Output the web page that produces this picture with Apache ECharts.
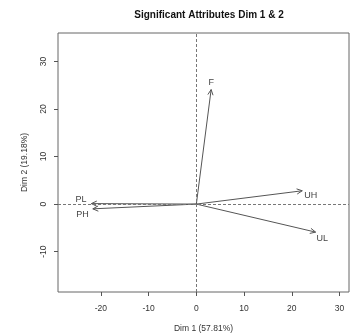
<!DOCTYPE html>
<html>
<head>
<meta charset="utf-8">
<script src="https://cdn.jsdelivr.net/npm/echarts@6/dist/echarts.min.js"></script>
<style>
  html, body { margin: 0; padding: 0; background: #fff; }
  #main { width: 355px; height: 334px; }
</style>
</head>
<body>
<div id="main"></div>
<script>
// attribute vectors (Dim 1, Dim 2)
var attrNames = ['F', 'PL', 'PH', 'UH', 'UL'];
var dim1 = [3.1, -22.0, -21.7, 22.2, 25.0];
var dim2 = [24.1, 0.1, -1.0, 2.8, -5.9];
var xTicks = [-20, -10, 0, 10, 20, 30];
var yTicks = [-10, 0, 10, 20, 30];

// where each label sits relative to arrow tip (px)
var labelOffset = {
    F: [0, -7, 'center'],
    PL: [-5, -4, 'right'],
    PH: [-4, 6, 'right'],
    UH: [2, 5, 'left'],
    UL: [1, 6, 'left']
};

var chartDom = document.getElementById('main');
var myChart = echarts.init(chartDom);
var option;

var arrowData = attrNames.map(function (n, i) {
    return { name: n, value: [dim1[i], dim2[i]] };
});

option = {
    animation: false,
    textStyle: { fontFamily: 'Liberation Sans, Arial, sans-serif' },
    title: {
        text: 'Significant Attributes Dim 1 & 2',
        left: 204,
        textAlign: 'center',
        top: 5,
        textStyle: { fontSize: 10, fontWeight: 'bold', color: '#111' }
    },
    grid: {
        left: 58, right: 6, top: 33, bottom: 42,
        outerBoundsMode: 'none',
        containLabel: false,
        show: true, borderColor: '#666', borderWidth: 1, backgroundColor: 'transparent'
    },
    xAxis: {
        type: 'value',
        min: -29, max: 32,
        name: 'Dim 1 (57.81%)',
        nameLocation: 'middle',
        nameGap: 32,
        nameTextStyle: { fontSize: 8.5, color: '#333' },
        axisLine: { show: false, onZero: false },
        splitLine: { show: false },
        axisTick: { show: true, length: 4, customValues: xTicks, lineStyle: { color: '#555' } },
        axisLabel: { fontSize: 8.5, color: '#333', margin: 12, customValues: xTicks }
    },
    yAxis: {
        type: 'value',
        min: -18.5, max: 36,
        name: 'Dim 2 (19.18%)',
        nameLocation: 'middle',
        nameGap: 29,
        nameTextStyle: { fontSize: 8.5, color: '#333' },
        axisLine: { show: false, onZero: false },
        splitLine: { show: false },
        axisTick: { show: true, length: 4, customValues: yTicks, lineStyle: { color: '#555' } },
        axisLabel: { fontSize: 8.5, color: '#333', rotate: 90, margin: 10, customValues: yTicks }
    },
    series: [
        {
            type: 'custom',
            data: arrowData,
            renderItem: function (params, api) {
                var p0 = api.coord([0, 0]);
                var p1 = api.coord([api.value(0), api.value(1)]);
                var ang = Math.atan2(p1[1] - p0[1], p1[0] - p0[0]);
                var len = 6, spread = Math.PI / 7;
                var a1 = [p1[0] - len * Math.cos(ang - spread), p1[1] - len * Math.sin(ang - spread)];
                var a2 = [p1[0] - len * Math.cos(ang + spread), p1[1] - len * Math.sin(ang + spread)];
                var name = attrNames[params.dataIndex];
                var off = labelOffset[name];
                return {
                    type: 'group',
                    children: [
                        { type: 'line', shape: { x1: p0[0], y1: p0[1], x2: p1[0], y2: p1[1] },
                          style: { stroke: '#555', lineWidth: 1 } },
                        { type: 'polyline', shape: { points: [a1, p1, a2] },
                          style: { stroke: '#555', lineWidth: 1, fill: null } },
                        { type: 'text', x: p1[0] + off[0], y: p1[1] + off[1],
                          style: { text: name, fill: '#444', fontSize: 9,
                                   fontFamily: 'Liberation Sans, Arial, sans-serif',
                                   align: off[2], verticalAlign: 'middle' } }
                    ]
                };
            },
            markLine: {
                silent: true,
                symbol: 'none',
                label: { show: false },
                lineStyle: { color: '#777', type: [3, 2], width: 1 },
                data: [{ xAxis: 0 }, { yAxis: 0 }]
            },
            z: 3
        }
    ]
};

option && myChart.setOption(option);
</script>
</body>
</html>
